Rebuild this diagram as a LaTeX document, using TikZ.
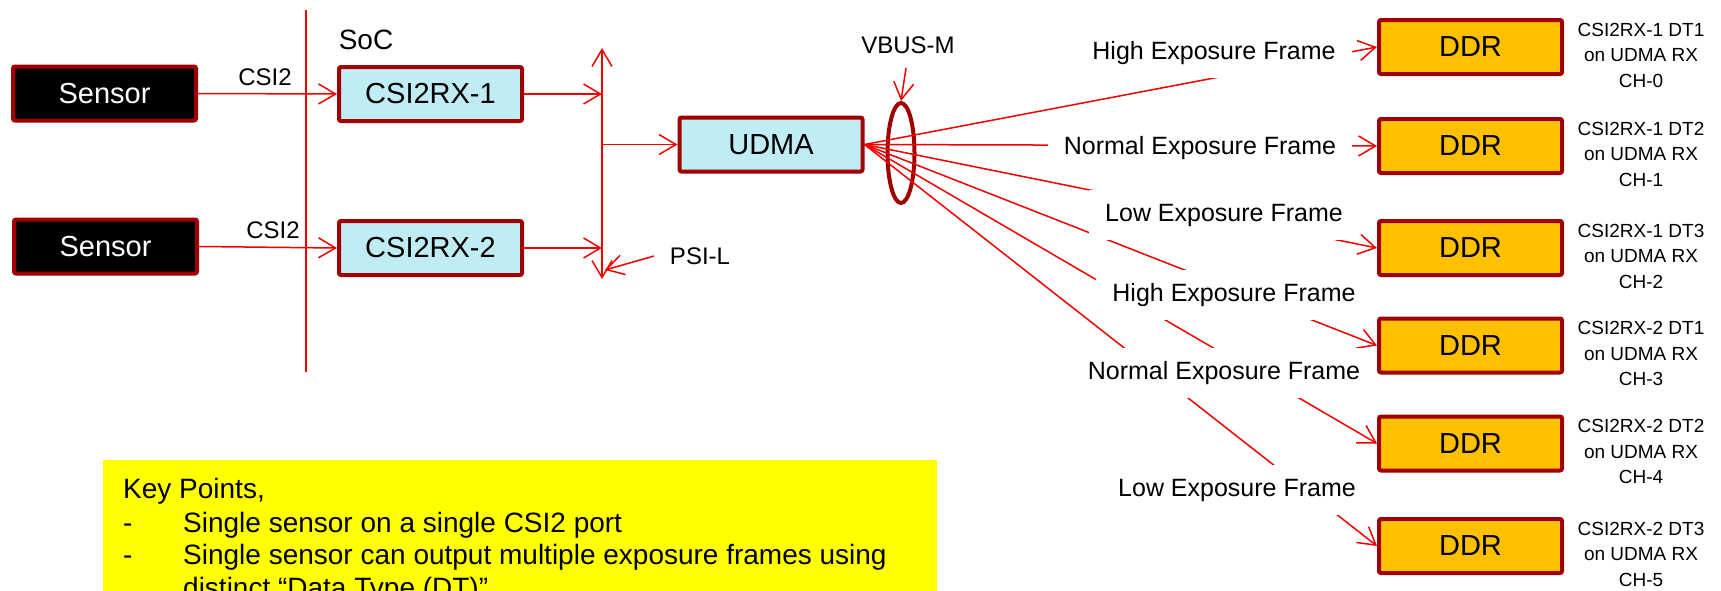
\documentclass[tikz,border=0pt]{standalone}
\usepackage{fontspec}
\setmainfont{Liberation Sans}
\usetikzlibrary{arrows.meta,shapes.geometric}
\definecolor{dkred}{HTML}{A00000}
\definecolor{lnred}{HTML}{F00000}
\definecolor{cyanfill}{HTML}{C0ECF4}
\definecolor{ddrfill}{HTML}{FFC000}
\definecolor{keyyellow}{HTML}{FFFF00}
\begin{document}
\begin{tikzpicture}[x=1pt,y=-1pt,
  >={Straight Barb[length=17pt,width=20pt]},
  blk/.style={draw=dkred, line width=4pt, rounded corners=2pt, minimum width=183pt, minimum height=54pt, inner sep=0pt, font=\fontsize{29}{34}\selectfont},
  sensorbox/.style={blk, fill=black, text=white},
  rxbox/.style={blk, fill=cyanfill},
  ddrbox/.style={blk, fill=ddrfill},
  wire/.style={draw=lnred, line width=1.5pt},
  lbl/.style={font=\fontsize{24}{28}\selectfont, inner sep=0pt},
  framelbl/.style={fill=white, inner sep=0pt, font=\fontsize{25}{30}\selectfont, minimum height=50pt},
  chlbl/.style={font=\fontsize{19}{25.5}\selectfont, align=center, inner sep=0pt},
  kpt/.style={anchor=base west, inner sep=0pt, font=\fontsize{28}{33}\selectfont},
]
\useasboundingbox (0,0) rectangle (1721,590);
\clip (0,0) rectangle (1721,590);

% SoC boundary
\coordinate (soct) at (306,10);
\coordinate (socb) at (306,372);
\draw[wire] (soct) -- (socb);
\node[inner sep=0pt, font=\fontsize{28}{32}\selectfont] (soc) at (366,40) {SoC};

% sensors and receivers
\node[sensorbox] (s1) at (104.5,93.5) {Sensor};
\node[sensorbox] (s2) at (105.5,246.5) {Sensor};
\node[rxbox] (rx1) at (430.5,94) {CSI2RX-1};
\node[rxbox] (rx2) at (430.5,248) {CSI2RX-2};
\node[lbl] (c1) at (265,77) {CSI2};
\node[lbl] (c2) at (273,230) {CSI2};
\draw[wire,->] (s1.east) -- (rx1.west);
\draw[wire,->] (s2.east) -- (rx2.west);

% PSI-L bus
\coordinate (bt) at (602,48);
\coordinate (bb) at (602,279);
\coordinate (b1) at (602,94);
\coordinate (b2) at (602,248);
\coordinate (b0) at (602,144.5);
\draw[wire,<->] (bt) -- (bb);
\draw[wire,->] (rx1.east) -- (b1);
\draw[wire,->] (rx2.east) -- (b2);
\node[rxbox] (udma) at (771,144.5) {UDMA};
\draw[wire,->] (b0) -- (udma.west);
\node[lbl] (psil) at (700,256) {PSI-L};
\coordinate (pst) at (654,256);
\coordinate (psh) at (605,270);
\draw[wire,->] (pst) -- (psh);

% VBUS-M
\node[draw=dkred, line width=4pt, ellipse, minimum width=27pt, minimum height=100pt, inner sep=0pt] (vbus) at (901,153) {};
\node[lbl] (vbusl) at (908,45) {VBUS-M};
\coordinate (vbt) at (906,68);
\draw[wire,->] (vbt) -- (vbus.north);

% DDR targets
\node[ddrbox] (d1) at (1470.5,47) {DDR};
\node[ddrbox] (d2) at (1470.5,146) {DDR};
\node[ddrbox] (d3) at (1470.5,248) {DDR};
\node[ddrbox] (d4) at (1470.5,345.5) {DDR};
\node[ddrbox] (d5) at (1470.5,443.5) {DDR};
\node[ddrbox] (d6) at (1470.5,546) {DDR};
\node[chlbl] (l1) at (1641,55) {CSI2RX-1 DT1\\on UDMA RX\\CH-0};
\node[chlbl] (l2) at (1641,154) {CSI2RX-1 DT2\\on UDMA RX\\CH-1};
\node[chlbl] (l3) at (1641,256) {CSI2RX-1 DT3\\on UDMA RX\\CH-2};
\node[chlbl] (l4) at (1641,353.5) {CSI2RX-2 DT1\\on UDMA RX\\CH-3};
\node[chlbl] (l5) at (1641,451.5) {CSI2RX-2 DT2\\on UDMA RX\\CH-4};
\node[chlbl] (l6) at (1641,554) {CSI2RX-2 DT3\\on UDMA RX\\CH-5};

% fan of connectors
\foreach \d in {d1,d2,d3,d4,d5,d6}
  \draw[wire,->] (udma.east) -- (\d.west);

% frame labels (white boxes over the connectors)
\node[framelbl, minimum width=276pt] (f1) at (1214,53) {High Exposure Frame};
\node[framelbl, minimum width=304pt] (f2) at (1200,148) {Normal Exposure Frame};
\node[framelbl, minimum width=270pt] (f3) at (1224,215) {Low Exposure Frame};
\node[framelbl, minimum width=276pt] (f4) at (1234,295) {High Exposure Frame};
\node[framelbl, minimum width=300pt] (f5) at (1224,373) {Normal Exposure Frame};
\node[framelbl, minimum width=270pt] (f6) at (1237,490) {Low Exposure Frame};

% key points
\node[fill=keyyellow, minimum width=834pt, minimum height=170pt, anchor=north west, inner sep=0pt] (kp) at (103,460) {};
\node[kpt] (k0) at (123,498) {Key Points,};
\node[kpt] (k1d) at (123,532) {-};
\node[kpt] (k1) at (183,532) {Single sensor on a single CSI2 port};
\node[kpt] (k2d) at (123,564) {-};
\node[kpt] (k2) at (183,564) {Single sensor can output multiple exposure frames using};
\node[kpt] (k3) at (183,597) {distinct “Data Type (DT)”};
\end{tikzpicture}
\end{document}
